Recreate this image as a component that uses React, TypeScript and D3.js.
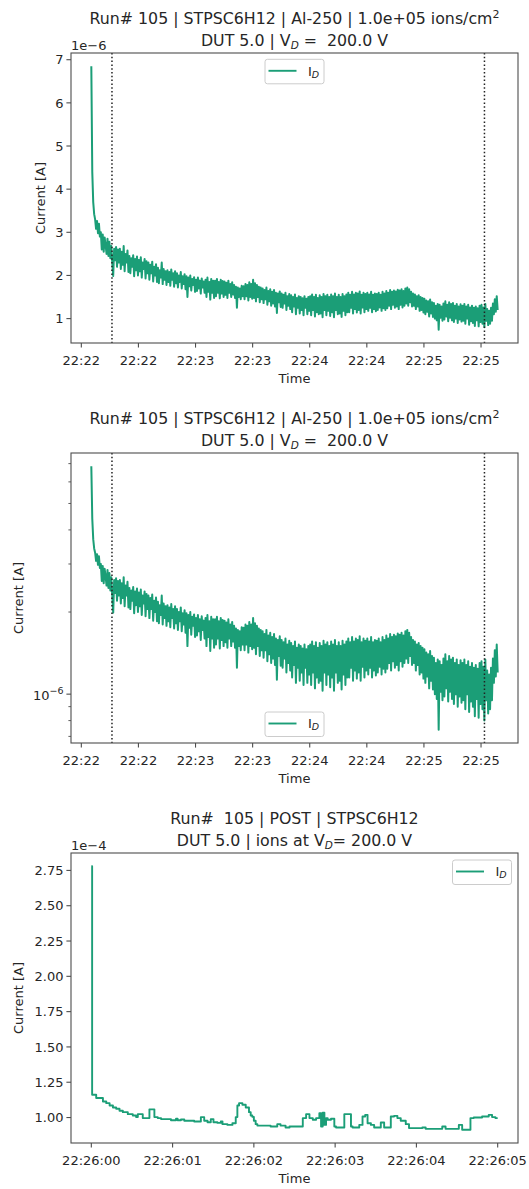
import React, { useEffect } from 'react';
import * as d3 from 'd3';

// ---------------- data ----------------
const RUN_DAY = Date.UTC(2021, 0, 1);

// Irradiation run, drain current sampled every 0.5 s starting 22:22:05.25 (values in µA)
const irrStartClock = '22:22:05.25';
const irrSampleSeconds = 0.5;
const irrCurrentMicroA = [
  6.85, 4.4, 3.7, 3.42, 3.3, 3.08, 3.26, 2.98, 3.2, 2.9,
  3.0, 2.6, 2.95, 2.55, 2.88, 2.7, 2.5, 2.85, 2.45, 2.78,
  2.4, 2.68, 2.3, 1.99, 2.62, 2.35, 2.66, 2.2, 2.6, 2.3,
  2.62, 2.15, 2.55, 2.25, 2.68, 2.1, 2.5, 2.3, 2.58, 2.08,
  2.45, 2.05, 2.4, 2.2, 2.47, 1.98, 2.38, 2.12, 2.44, 2.0,
  2.36, 2.1, 2.42, 1.95, 2.3, 2.15, 2.38, 1.93, 2.33, 2.05,
  2.3, 1.9, 2.25, 2.05, 2.32, 1.86, 2.2, 2.0, 2.26, 1.85,
  2.18, 1.82, 2.12, 1.95, 2.3, 1.8, 2.15, 1.9, 2.1, 1.78,
  2.12, 1.85, 2.08, 1.76, 2.14, 1.9, 2.05, 1.74, 2.1, 1.82,
  2.05, 1.72, 2.0, 1.85, 2.08, 1.7, 1.98, 1.8, 2.03, 1.68,
  1.98, 1.5, 1.95, 1.75, 2.0, 1.65, 1.92, 1.78, 1.96, 1.62,
  1.9, 1.64, 1.95, 1.7, 1.88, 1.58, 1.93, 1.72, 1.86, 1.6,
  1.9, 1.5, 1.95, 1.62, 1.85, 1.44, 1.92, 1.6, 1.88, 1.48,
  1.88, 1.52, 1.92, 1.6, 1.85, 1.47, 1.9, 1.58, 1.87, 1.5,
  1.86, 1.55, 1.83, 1.48, 1.88, 1.6, 1.8, 1.5, 1.84, 1.56,
  1.78, 1.48, 1.74, 1.25, 1.72, 1.5, 1.7, 1.45, 1.76, 1.52,
  1.75, 1.45, 1.8, 1.52, 1.78, 1.42, 1.84, 1.5, 1.8, 1.46,
  1.9, 1.48, 1.82, 1.4, 1.78, 1.5, 1.74, 1.38, 1.72, 1.45,
  1.7, 1.36, 1.66, 1.45, 1.72, 1.32, 1.64, 1.4, 1.68, 1.3,
  1.62, 1.35, 1.66, 1.28, 1.6, 1.13, 1.58, 1.38, 1.63, 1.27,
  1.58, 1.25, 1.55, 1.35, 1.6, 1.2, 1.52, 1.3, 1.57, 1.22,
  1.54, 1.15, 1.5, 1.28, 1.56, 1.1, 1.48, 1.25, 1.52, 1.12,
  1.5, 1.2, 1.47, 1.08, 1.52, 1.25, 1.46, 1.1, 1.5, 1.18,
  1.52, 1.08, 1.56, 1.2, 1.5, 1.05, 1.55, 1.15, 1.48, 1.1,
  1.54, 1.12, 1.5, 1.03, 1.57, 1.2, 1.52, 1.08, 1.55, 1.18,
  1.5, 1.06, 1.56, 1.15, 1.52, 1.03, 1.58, 1.2, 1.5, 1.1,
  1.55, 1.12, 1.5, 1.04, 1.57, 1.18, 1.52, 1.08, 1.56, 1.15,
  1.6, 1.15, 1.55, 1.25, 1.62, 1.12, 1.56, 1.22, 1.6, 1.14,
  1.58, 1.2, 1.63, 1.12, 1.55, 1.26, 1.6, 1.15, 1.57, 1.22,
  1.6, 1.18, 1.56, 1.25, 1.62, 1.15, 1.55, 1.22, 1.58, 1.17,
  1.57, 1.2, 1.6, 1.26, 1.55, 1.18, 1.62, 1.24, 1.58, 1.2,
  1.64, 1.24, 1.6, 1.3, 1.66, 1.22, 1.62, 1.32, 1.65, 1.25,
  1.63, 1.28, 1.67, 1.22, 1.65, 1.32, 1.68, 1.26, 1.64, 1.3,
  1.7, 1.35, 1.72, 1.3, 1.68, 1.38, 1.62, 1.28, 1.58, 1.3,
  1.56, 1.22, 1.52, 1.28, 1.54, 1.18, 1.5, 1.2, 1.48, 1.14,
  1.46, 1.1, 1.42, 1.16, 1.4, 1.05, 1.44, 1.12, 1.38, 1.04,
  1.36, 1.0, 1.3, 0.96, 1.34, 0.74, 1.32, 1.02, 1.28, 0.95,
  1.35, 0.98, 1.4, 1.05, 1.32, 0.94, 1.38, 1.02, 1.34, 0.96,
  1.36, 0.92, 1.3, 1.0, 1.34, 0.9, 1.28, 0.98, 1.33, 0.93,
  1.3, 0.95, 1.34, 0.88, 1.28, 1.0, 1.32, 0.86, 1.26, 0.94,
  1.3, 0.9, 1.25, 0.83, 1.28, 0.96, 1.24, 0.82, 1.3, 0.92,
  1.32, 0.88, 1.26, 0.8, 1.34, 0.95, 1.22, 0.85, 1.18, 0.88,
  1.25, 0.95, 1.35, 1.1, 1.45, 1.16, 1.52, 1.2,
];
// beam on / beam off markers
const beamMarkerClocks = ['22:22:16.1', '22:25:31.8'];

// POST measurement (seconds after 22:26:00, current in 1e-4 A)
const postStartClock = '22:26:00';
const postOffsetSeconds = [
  0, 0.01, 0.06, 0.143, 0.184, 0.225, 0.266, 0.306, 0.347, 0.388,
  0.449, 0.51, 0.551, 0.572, 0.633, 0.715, 0.776, 0.817, 0.858, 0.98,
  1.042, 1.062, 1.103, 1.144, 1.266, 1.348, 1.389, 1.43, 1.47, 1.503,
  1.552, 1.593, 1.614, 1.675, 1.736, 1.777, 1.797, 1.818, 1.859, 1.9,
  1.94, 1.961, 1.981, 2.0, 2.022, 2.043, 2.206, 2.288, 2.328, 2.39,
  2.439, 2.602, 2.643, 2.684, 2.725, 2.766, 2.806, 2.827, 2.847, 2.868,
  2.888, 2.908, 2.949, 2.99, 3.011, 3.113, 3.195, 3.215, 3.297, 3.337,
  3.37, 3.399, 3.44, 3.48, 3.562, 3.603, 3.685, 3.725, 3.766, 3.807,
  3.869, 3.909, 4.073, 4.114, 4.318, 4.359, 4.522, 4.563, 4.665, 4.706,
  4.808, 4.89, 4.931, 4.972, 5.0,
];
const postCurrent1e4 = [
  2.78, 1.161, 1.138, 1.114, 1.102, 1.085, 1.071, 1.062, 1.048, 1.038,
  1.024, 1.014, 1.003, 1.024, 0.996, 1.058, 1.003, 0.996, 0.989, 0.981,
  0.991, 0.981, 0.986, 0.977, 0.972, 1.003, 0.977, 0.967, 0.989, 0.967,
  0.962, 0.972, 0.953, 0.948, 0.96, 1.003, 1.085, 1.102, 1.09, 1.071,
  1.038, 1.014, 1.005, 0.977, 0.953, 0.943, 0.936, 0.953, 0.943, 0.929,
  0.936, 0.996, 1.024, 0.996, 0.984, 0.996, 1.031, 0.936, 1.035, 0.948,
  0.996, 0.984, 0.991, 0.936, 0.929, 1.024, 0.936, 0.929, 0.948, 1.007,
  1.019, 0.96, 0.948, 0.929, 0.965, 0.929, 1.007, 1.012, 0.996, 0.977,
  0.953, 0.925, 0.929, 0.92, 0.936, 0.92, 0.948, 0.913, 0.996, 1.0,
  1.007, 1.019, 1.003, 0.996, 0.996,
];

// tick values
const linTicksMicroA = [1, 2, 3, 4, 5, 6, 7];
const logMajorTicks = [1e-6];
const logMinorTicks = [6e-7, 7e-7, 8e-7, 9e-7, 2e-6, 3e-6, 4e-6, 5e-6, 6e-6, 7e-6, 8e-6, 9e-6];
const postTicks1e4 = [1.0, 1.25, 1.5, 1.75, 2.0, 2.25, 2.5, 2.75];

// ---------------- style / layout ----------------
const W = 529;
const H = 1189;
const FONT = "'DejaVu Sans', 'Liberation Sans', sans-serif";
const TEXT = '#262626';
const SPINE = '#4d4d4d';
const LINE = '#1b9e77';
const AX_L = 71;
const AX_R = 518;
const AX_H = 290;
const TOPS = [53, 453, 853];
const FS = 13;
const TITLE_FS = 15.8;

const clock = (s: string) => {
  const [h, m, sec] = s.split(':');
  return new Date(RUN_DAY + (Number(h) * 3600 + Number(m) * 60 + Number(sec)) * 1000);
};

type Pt = { t: Date; v: number };

const irrStart = clock(irrStartClock);
const irrSeries: Pt[] = irrCurrentMicroA.map((v, i) => ({
  t: new Date(irrStart.getTime() + i * irrSampleSeconds * 1000),
  v: v * 1e-6,
}));
const postStart = clock(postStartClock);
const postSeries: Pt[] = postOffsetSeconds.map((s, i) => ({
  t: new Date(postStart.getTime() + s * 1000),
  v: postCurrent1e4[i] * 1e-4,
}));
const beamMarkers = beamMarkerClocks.map(clock);

const padTime = (arr: Pt[]) => {
  const [a, b] = d3.extent(arr, (d) => d.t.getTime()) as [number, number];
  const m = (b - a) * 0.05;
  return [new Date(a - m), new Date(b + m)];
};
const padLin = (arr: Pt[]) => {
  const [a, b] = d3.extent(arr, (d) => d.v) as [number, number];
  const m = (b - a) * 0.05;
  return [a - m, b + m];
};
const padLog = (arr: Pt[]) => {
  const [a, b] = d3.extent(arr, (d) => Math.log10(d.v)) as [number, number];
  const m = (b - a) * 0.05;
  return [Math.pow(10, a - m), Math.pow(10, b + m)];
};

function Legend({ x, y }: { x: number; y: number }) {
  return (
    <g transform={`translate(${x},${y})`}>
      <rect x={0.5} y={0.5} width={59} height={24.5} rx={2.5} fill="#fff" fillOpacity={0.8} stroke="#cccccc" strokeWidth={1} />
      <line x1={4} x2={32} y1={12} y2={12} stroke={LINE} strokeWidth={1.9} />
      <text x={43.5} y={16.8} fontSize={FS} fill={TEXT}>
        I
        <tspan fontSize={9.5} fontStyle="italic" dy={2}>D</tspan>
      </text>
    </g>
  );
}

function Frame({ top }: { top: number }) {
  return (
    <rect x={AX_L} y={top} width={AX_R - AX_L} height={AX_H} fill="none" stroke={SPINE} strokeWidth={1.1} />
  );
}

function XAxis({ scale, top, ticks, fmt }: { scale: any; top: number; ticks: Date[]; fmt: (d: Date) => string }) {
  const bottom = top + AX_H;
  return (
    <g>
      {ticks.map((t, i) => {
        const x = scale(t);
        return (
          <g key={i}>
            <line x1={x} x2={x} y1={bottom} y2={bottom + 4.6} stroke={SPINE} strokeWidth={1.1} />
            <text x={x} y={bottom + 21.5} textAnchor="middle" fontSize={FS} fill={TEXT}>
              {fmt(t)}
            </text>
          </g>
        );
      })}
      <text x={(AX_L + AX_R) / 2} y={bottom + 40} textAnchor="middle" fontSize={FS} fill={TEXT}>
        Time
      </text>
    </g>
  );
}

function YLabel({ x, top }: { x: number; top: number }) {
  return (
    <text
      transform={`translate(${x},${top + AX_H / 2}) rotate(-90)`}
      textAnchor="middle"
      dy="0.35em"
      fontSize={FS}
      fill={TEXT}
    >
      Current [A]
    </text>
  );
}

function Title({ top, line1, sup, line2a, line2b }: { top: number; line1: string; sup?: string; line2a: string; line2b: string }) {
  const cx = (AX_L + AX_R) / 2;
  return (
    <g fontSize={TITLE_FS} fill={TEXT} style={{ whiteSpace: 'pre' }}>
      <text x={cx} y={top - 29} textAnchor="middle" style={{ whiteSpace: 'pre' }}>
        {line1}
        {sup ? (
          <tspan fontSize={11} dy={-5.8}>
            {sup}
          </tspan>
        ) : null}
      </text>
      <text x={cx} y={top - 7} textAnchor="middle" style={{ whiteSpace: 'pre' }}>
        {line2a}
        <tspan fontSize={10.5} fontStyle="italic" dy={2.6}>
          D
        </tspan>
        <tspan dy={-2.6}>{line2b}</tspan>
      </text>
    </g>
  );
}

export default function App() {
  useEffect(() => {
    document.body.style.margin = '0';
  }, []);

  // --- panel 1 & 2 (irradiation) ---
  const xIrr = d3.scaleUtc().domain(padTime(irrSeries)).range([AX_L, AX_R]);
  const irrTicks = xIrr.ticks(d3.utcSecond.every(30) as any);
  const fmtHM = d3.utcFormat('%H:%M');

  const y1 = d3.scaleLinear().domain(padLin(irrSeries)).range([TOPS[0] + AX_H, TOPS[0]]);
  const y2 = d3.scaleLog().domain(padLog(irrSeries)).range([TOPS[1] + AX_H, TOPS[1]]);

  const line1 = d3.line<Pt>().x((d) => xIrr(d.t)).y((d) => y1(d.v));
  const line2 = d3.line<Pt>().x((d) => xIrr(d.t)).y((d) => y2(d.v));

  // --- panel 3 (POST) ---
  const xPost = d3.scaleUtc().domain(padTime(postSeries)).range([AX_L, AX_R]);
  const postTicks = xPost.ticks(d3.utcSecond.every(1) as any);
  const fmtHMS = d3.utcFormat('%H:%M:%S');
  const y3 = d3.scaleLinear().domain(padLin(postSeries)).range([TOPS[2] + AX_H, TOPS[2]]);
  const line3 = d3
    .line<Pt>()
    .x((d) => xPost(d.t))
    .y((d) => y3(d.v))
    .curve(d3.curveStepAfter);

  const [y2lo, y2hi] = y2.domain();
  const inLog = (v: number) => v >= y2lo && v <= y2hi;

  return (
    <svg
      width={W}
      height={H}
      viewBox={`0 0 ${W} ${H}`}
      style={{ position: 'absolute', left: 0, top: 0, background: '#fff', display: 'block' }}
      fontFamily={FONT}
    >
      <rect x={0} y={0} width={W} height={H} fill="#fff" />

      {/* ---------- Panel 1 ---------- */}
      <Title
        top={TOPS[0]}
        line1="Run# 105 | STPSC6H12 | Al-250 | 1.0e+05 ions/cm"
        sup="2"
        line2a="DUT 5.0 | V"
        line2b=" =  200.0 V"
      />
      <path d={line1(irrSeries) || ''} fill="none" stroke={LINE} strokeWidth={2} strokeLinejoin="round" />
      {beamMarkers.map((m, i) => (
        <line key={i} x1={xIrr(m)} x2={xIrr(m)} y1={TOPS[0]} y2={TOPS[0] + AX_H} stroke="#222" strokeWidth={1.5} strokeDasharray="1.5 2.3" />
      ))}
      <Frame top={TOPS[0]} />
      {linTicksMicroA.map((t) => {
        const y = y1(t * 1e-6);
        return (
          <g key={t}>
            <line x1={AX_L} x2={AX_L - 4.6} y1={y} y2={y} stroke={SPINE} strokeWidth={1.1} />
            <text x={AX_L - 7.5} y={y} dy="0.36em" textAnchor="end" fontSize={FS} fill={TEXT}>
              {t}
            </text>
          </g>
        );
      })}
      <text x={AX_L} y={TOPS[0] - 3.5} fontSize={FS} fill={TEXT}>
        1e−6
      </text>
      <XAxis scale={xIrr} top={TOPS[0]} ticks={irrTicks} fmt={fmtHM} />
      <YLabel x={40} top={TOPS[0]} />
      <Legend x={(AX_L + AX_R) / 2 - 30} y={TOPS[0] + 5.8} />

      {/* ---------- Panel 2 ---------- */}
      <Title
        top={TOPS[1]}
        line1="Run# 105 | STPSC6H12 | Al-250 | 1.0e+05 ions/cm"
        sup="2"
        line2a="DUT 5.0 | V"
        line2b=" =  200.0 V"
      />
      <path d={line2(irrSeries) || ''} fill="none" stroke={LINE} strokeWidth={2} strokeLinejoin="round" />
      {beamMarkers.map((m, i) => (
        <line key={i} x1={xIrr(m)} x2={xIrr(m)} y1={TOPS[1]} y2={TOPS[1] + AX_H} stroke="#222" strokeWidth={1.5} strokeDasharray="1.5 2.3" />
      ))}
      <Frame top={TOPS[1]} />
      {logMinorTicks.filter(inLog).map((t) => {
        const y = y2(t);
        return <line key={t} x1={AX_L} x2={AX_L - 2.6} y1={y} y2={y} stroke={SPINE} strokeWidth={0.9} />;
      })}
      {logMajorTicks.filter(inLog).map((t) => {
        const y = y2(t);
        return (
          <g key={t}>
            <line x1={AX_L} x2={AX_L - 4.6} y1={y} y2={y} stroke={SPINE} strokeWidth={1.1} />
            <text x={AX_L - 7.5} y={y + 5.5} textAnchor="end" fontSize={FS} fill={TEXT}>
              10
              <tspan fontSize={9.5} dy={-6}>
                {'−' + String(-Math.round(Math.log10(t)))}
              </tspan>
            </text>
          </g>
        );
      })}
      <XAxis scale={xIrr} top={TOPS[1]} ticks={irrTicks} fmt={fmtHM} />
      <YLabel x={18.3} top={TOPS[1]} />
      <Legend x={(AX_L + AX_R) / 2 - 30} y={TOPS[1] + AX_H - 31.5} />

      {/* ---------- Panel 3 ---------- */}
      <Title
        top={TOPS[2]}
        line1="Run#  105 | POST | STPSC6H12"
        line2a="DUT 5.0 | ions at V"
        line2b="= 200.0 V"
      />
      <path d={line3(postSeries) || ''} fill="none" stroke={LINE} strokeWidth={1.9} strokeLinejoin="round" />
      <Frame top={TOPS[2]} />
      {postTicks1e4.map((t) => {
        const y = y3(t * 1e-4);
        return (
          <g key={t}>
            <line x1={AX_L} x2={AX_L - 4.6} y1={y} y2={y} stroke={SPINE} strokeWidth={1.1} />
            <text x={AX_L - 7.5} y={y} dy="0.36em" textAnchor="end" fontSize={FS} fill={TEXT}>
              {d3.format('.2f')(t)}
            </text>
          </g>
        );
      })}
      <text x={AX_L} y={TOPS[2] - 3.5} fontSize={FS} fill={TEXT}>
        1e−4
      </text>
      <XAxis scale={xPost} top={TOPS[2]} ticks={postTicks} fmt={fmtHMS} />
      <YLabel x={18.3} top={TOPS[2]} />
      <Legend x={AX_R - 66} y={TOPS[2] + 6.5} />
    </svg>
  );
}
